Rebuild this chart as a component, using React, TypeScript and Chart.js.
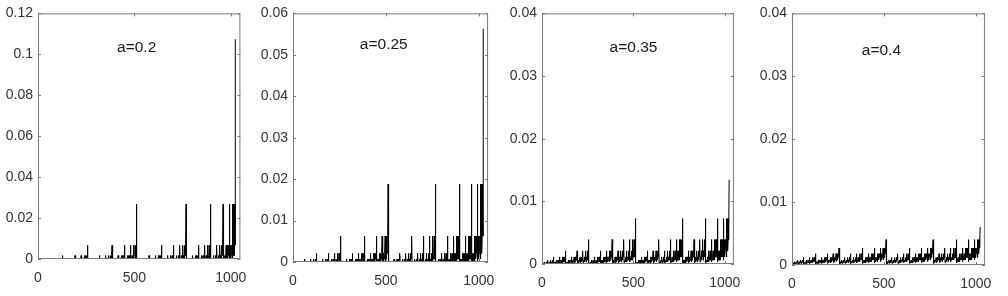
import React, { useEffect, useRef } from "react";
import { Chart, registerables } from "chart.js";

Chart.register(...registerables);

// Number of "heavy" (1-a) factors at each of the 1024 cascade cells (hex digit, a = 10).
const CELL_CLASS_ROWS = [
  "01121223 12232334 12232334 23343445 12232334 23343445 23343445 34454556",
  "12232334 23343445 23343445 34454556 23343445 34454556 34454556 45565667",
  "12232334 23343445 23343445 34454556 23343445 34454556 34454556 45565667",
  "23343445 34454556 34454556 45565667 34454556 45565667 45565667 56676778",
  "12232334 23343445 23343445 34454556 23343445 34454556 34454556 45565667",
  "23343445 34454556 34454556 45565667 34454556 45565667 45565667 56676778",
  "23343445 34454556 34454556 45565667 34454556 45565667 45565667 56676778",
  "34454556 45565667 45565667 56676778 45565667 56676778 56676778 67787889",
  "12232334 23343445 23343445 34454556 23343445 34454556 34454556 45565667",
  "23343445 34454556 34454556 45565667 34454556 45565667 45565667 56676778",
  "23343445 34454556 34454556 45565667 34454556 45565667 45565667 56676778",
  "34454556 45565667 45565667 56676778 45565667 56676778 56676778 67787889",
  "23343445 34454556 34454556 45565667 34454556 45565667 45565667 56676778",
  "34454556 45565667 45565667 56676778 45565667 56676778 56676778 67787889",
  "34454556 45565667 45565667 56676778 45565667 56676778 56676778 67787889",
  "45565667 56676778 56676778 67787889 56676778 67787889 67787889 7889898a",
];

// Spike heights read for each class (index 0..10), per panel.
const LEVELS_A020 = [1.02e-7, 4.1e-7, 1.64e-6, 6.55e-6, 2.62e-5, 1.05e-4, 4.19e-4, 1.68e-3, 6.71e-3, 2.68e-2, 1.074e-1];
const LEVELS_A025 = [9.54e-7, 2.86e-6, 8.58e-6, 2.57e-5, 7.72e-5, 2.32e-4, 6.95e-4, 2.09e-3, 6.26e-3, 1.88e-2, 5.63e-2];
const LEVELS_A035 = [2.76e-5, 5.12e-5, 9.52e-5, 1.77e-4, 3.28e-4, 6.09e-4, 1.13e-3, 2.1e-3, 3.9e-3, 7.25e-3, 1.346e-2];
const LEVELS_A040 = [1.05e-4, 1.57e-4, 2.36e-4, 3.54e-4, 5.31e-4, 7.96e-4, 1.19e-3, 1.79e-3, 2.69e-3, 4.03e-3, 6.05e-3];

const PANEL_TITLES = ["a=0.2", "a=0.25", "a=0.35", "a=0.4"];
const TITLE_X = [410, 360, 370, 380];
const TITLE_Y = [0.1033, 0.0524, 0.0345, 0.034];

const X_MAX = 1050;
const X_TICKS = [0, 500, 1000];
const X_LABELS = ["0", "500", "1000"];

const Y_MAX = [0.12, 0.06, 0.04, 0.04];
const Y_TICKS_1 = [0, 0.02, 0.04, 0.06, 0.08, 0.1, 0.12];
const Y_LABELS_1 = ["0", "0.02", "0.04", "0.06", "0.08", "0.1", "0.12"];
const Y_TICKS_2 = [0, 0.01, 0.02, 0.03, 0.04, 0.05, 0.06];
const Y_LABELS_2 = ["0", "0.01", "0.02", "0.03", "0.04", "0.05", "0.06"];
const Y_TICKS_3 = [0, 0.01, 0.02, 0.03, 0.04];
const Y_LABELS_3 = ["0", "0.01", "0.02", "0.03", "0.04"];

// ---- derived tables ----
const CELL_CLASS = CELL_CLASS_ROWS.join("").replace(/ /g, "").split("").map((c) => parseInt(c, 16));
const X_POS = CELL_CLASS.map((_, j) => j + 1);
const LEVELS = [LEVELS_A020, LEVELS_A025, LEVELS_A035, LEVELS_A040];
const SERIES = LEVELS.map((lv) => CELL_CLASS.map((k) => lv[k]));
const Y_TICKS = [Y_TICKS_1, Y_TICKS_2, Y_TICKS_3, Y_TICKS_3];
const Y_LABELS = [Y_LABELS_1, Y_LABELS_2, Y_LABELS_3, Y_LABELS_3];

// ---- layout / style ----
const FONT = '"Liberation Sans", Arial, Helvetica, sans-serif';
const LAYOUT = [
  { left: 38, top: 9, right: 244, bottom: 259 },
  { left: 293, top: 11, right: 492, bottom: 262 },
  { left: 542, top: 10, right: 738, bottom: 264 },
  { left: 792, top: 13, right: 989, bottom: 265 },
];
const AXW = 40;
const PADR = 14;
const XH = 30;
const H = 296;
const FRAME = "#7a7a7a";
const TICK_LEN = 3;

const boxPlugin = {
  id: "matlabBox",
  afterDraw(chart: any, _args: any, opts: any) {
    const { ctx, chartArea: a, scales } = chart;
    ctx.save();
    ctx.strokeStyle = FRAME;
    ctx.lineWidth = 1;
    ctx.strokeRect(a.left + 0.5, a.top + 0.5, a.right - a.left - 1, a.bottom - a.top - 1);
    ctx.beginPath();
    for (const t of scales.x.ticks) {
      const px = Math.round(scales.x.getPixelForValue(t.value)) + 0.5;
      ctx.moveTo(px, a.bottom);
      ctx.lineTo(px, a.bottom - TICK_LEN);
      ctx.moveTo(px, a.top);
      ctx.lineTo(px, a.top + TICK_LEN);
    }
    for (const t of scales.y.ticks) {
      const py = Math.round(scales.y.getPixelForValue(t.value)) + 0.5;
      ctx.moveTo(a.left, py);
      ctx.lineTo(a.left + TICK_LEN, py);
      ctx.moveTo(a.right, py);
      ctx.lineTo(a.right - TICK_LEN, py);
    }
    ctx.stroke();
    ctx.fillStyle = "#1a1a1a";
    ctx.font = "15.5px " + FONT;
    ctx.textAlign = "left";
    ctx.textBaseline = "middle";
    ctx.fillText(opts.text, scales.x.getPixelForValue(opts.tx), scales.y.getPixelForValue(opts.ty));
    ctx.restore();
  },
};

function Panel({ i }: { i: number }) {
  const ref = useRef<HTMLCanvasElement | null>(null);
  const L = LAYOUT[i];
  const w = L.right - L.left + AXW + PADR;
  useEffect(() => {
    if (!ref.current) return;
    const chart = new Chart(ref.current, {
      type: "line",
      data: {
        datasets: [
          {
            data: X_POS.map((x, j) => ({ x, y: SERIES[i][j] })),
            borderColor: "#000",
            borderWidth: 1,
            pointRadius: 0,
            tension: 0,
            fill: false,
          },
        ],
      },
      options: {
        responsive: false,
        maintainAspectRatio: false,
        animation: false,
        layout: { padding: { left: 0, top: L.top, right: PADR, bottom: H - L.bottom - XH } },
        plugins: {
          legend: { display: false },
          tooltip: { enabled: false },
          matlabBox: { text: PANEL_TITLES[i], tx: TITLE_X[i], ty: TITLE_Y[i] },
        } as any,
        scales: {
          x: {
            type: "linear",
            min: 0,
            max: X_MAX,
            grid: { display: false, drawTicks: false },
            border: { display: false },
            afterBuildTicks: (s: any) => {
              s.ticks = X_TICKS.map((v) => ({ value: v }));
            },
            afterFit: (s: any) => {
              s.height = XH;
            },
            ticks: {
              callback: (_v: any, k: number) => X_LABELS[k],
              padding: 11,
              font: { family: FONT, size: 14 },
              color: "#333",
              maxRotation: 0,
              autoSkip: false,
            },
          },
          y: {
            type: "linear",
            min: 0,
            max: Y_MAX[i],
            grid: { display: false, drawTicks: false },
            border: { display: false },
            afterBuildTicks: (s: any) => {
              s.ticks = Y_TICKS[i].map((v) => ({ value: v }));
            },
            afterFit: (s: any) => {
              s.width = AXW;
            },
            ticks: {
              callback: (_v: any, k: number) => Y_LABELS[i][k],
              padding: 5,
              font: { family: FONT, size: 14 },
              color: "#333",
              autoSkip: false,
            },
          },
        },
      },
      plugins: [boxPlugin],
    } as any);
    return () => chart.destroy();
  }, []);
  return (
    <canvas
      ref={ref}
      width={w}
      height={H}
      style={{ position: "absolute", left: L.left - AXW, top: 0, width: w, height: H }}
    />
  );
}

export default function App() {
  return (
    <div style={{ position: "absolute", left: 0, top: 0, width: 1008, height: 296, background: "#fff" }}>
      {[0, 1, 2, 3].map((i) => (
        <Panel key={i} i={i} />
      ))}
    </div>
  );
}
